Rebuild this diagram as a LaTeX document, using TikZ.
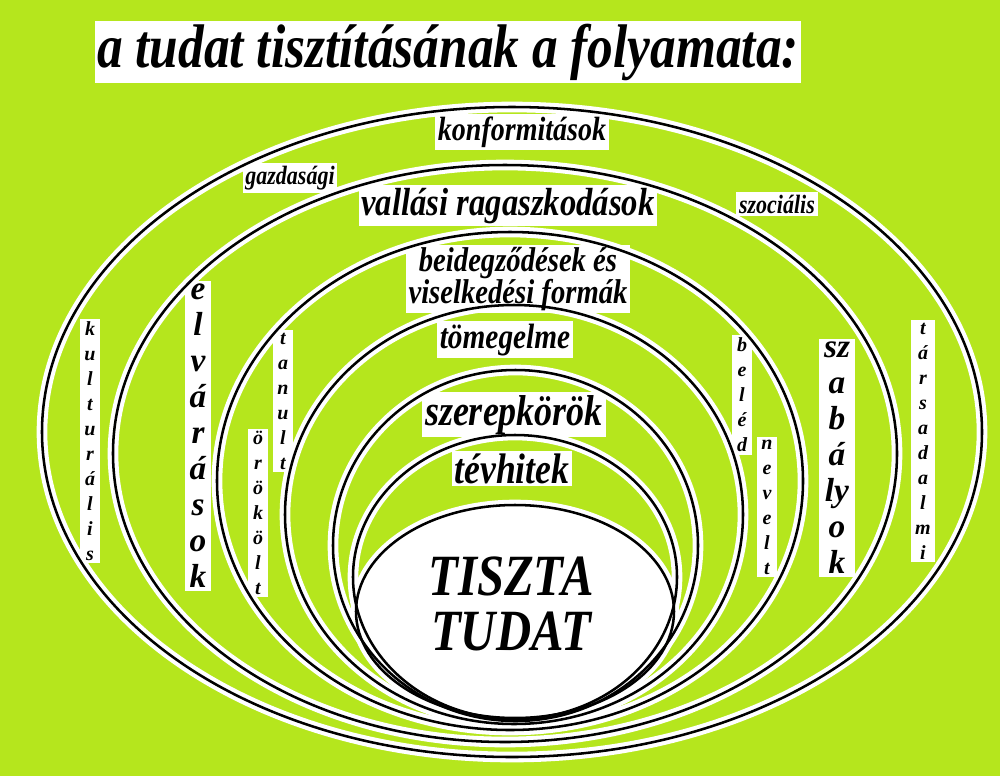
\documentclass[tikz,border=0pt]{standalone}
\usepackage{fontspec}
\setmainfont{Liberation Serif}
\usetikzlibrary{positioning}
\definecolor{limebg}{RGB}{181,230,29}
\tikzset{
  halo/.style={white, line width=8pt},
  ring/.style={black, line width=1.9pt},
  lbl/.style={fill=white, text=black, inner sep=2pt},
  col/.style={lbl, align=center, inner xsep=3.5pt, inner ysep=2pt},
}
\newcommand{\fs}[2]{\fontsize{#1}{#2}\selectfont\bfseries\itshape}
\newcommand{\tall}[1]{\scalebox{1}[1.2]{#1}}
\newcommand{\ringlist}{512/432/470/325, 505/453.5/392/288.5,
  510/481/293/249, 514/514.5/229/209.5, 515.5/545.5/182.5/175.5,
  515/577/162/142, 515/611.5/159/106.5}

\begin{document}
\begin{tikzpicture}[x=0.75pt, y=-0.75pt]
    \useasboundingbox (0,0) rectangle (1000,776);
    \fill[limebg] (0,0) rectangle (1000,776);
    % white glow under the rings
    \foreach \cx/\cy/\rx/\ry in \ringlist
      \draw[halo] (\cx,\cy) ellipse [x radius=\rx, y radius=\ry];
    \fill[white] (515,611.5) ellipse [x radius=159, y radius=106.5];
    % title
    \node[lbl, font=\fs{38.5}{46}] (title) at (448,52)
      {\tall{a tudat tisztításának a folyamata:}};
    % ring labels
    \node[lbl, font=\fs{21}{25}] (konf) at (522,132) {\tall{konformitások}};
    \node[lbl, font=\fs{16.5}{20}] (gazd) at (290,178) {\tall{gazdasági}};
    \node[lbl, font=\fs{16.5}{20}] (szoc) at (777,204) {\tall{szociális}};
    \node[lbl, anchor=base, font=\fs{24.5}{30}] (vallas) at (508,215)
      {\tall{vallási ragaszkodások}};
    \node[lbl, align=center, font=\fs{21.5}{24}] (beideg) at (518,279)
      {\tall{beidegződések és}\\\tall{viselkedési formák}};
    \node[lbl, anchor=base, font=\fs{22}{26}] (tomeg) at (505,348)
      {\tall{tömegelme}};
    \node[lbl, anchor=base, font=\fs{27}{32}] (szerep) at (514,425)
      {\tall{szerepkörök}};
    \node[lbl, anchor=base, font=\fs{26.7}{32}] (tevhit) at (512,483)
      {\tall{tévhitek}};
    \node[align=center, font=\fs{36.5}{41}] (tiszta) at (511,604)
      {\tall{TISZTA}\\\tall{TUDAT}};
    % letter columns
    \node[col, font=\fs{15}{18.75}] (kult) at (90,441)
      {k\\u\\l\\t\\u\\r\\á\\l\\i\\s};
    \node[col, font=\fs{25}{27}] (elvar) at (198,436)
      {e\\l\\v\\á\\r\\á\\s\\o\\k};
    \node[col, font=\fs{15}{18.75}] (tanult) at (283,401)
      {t\\a\\n\\u\\l\\t};
    \node[col, font=\fs{15}{18.75}] (orokolt) at (258,513)
      {ö\\r\\ö\\k\\ö\\l\\t};
    \node[col, font=\fs{15}{18.75}] (beled) at (742,395) {b\\e\\l\\é\\d};
    \node[col, font=\fs{15}{18.75}] (nevelt) at (767,507)
      {n\\e\\v\\e\\l\\t};
    \node[col, font=\fs{25}{27}] (szabaly) at (837,458)
      {sz\\a\\b\\á\\ly\\o\\k};
    \node[col, font=\fs{15}{18.75}] (tars) at (923,441)
      {t\\á\\r\\s\\a\\d\\a\\l\\m\\i};
    % the rings
    \foreach \cx/\cy/\rx/\ry in \ringlist
      \draw[ring] (\cx,\cy) ellipse [x radius=\rx, y radius=\ry];
  \end{tikzpicture}
\end{document}
